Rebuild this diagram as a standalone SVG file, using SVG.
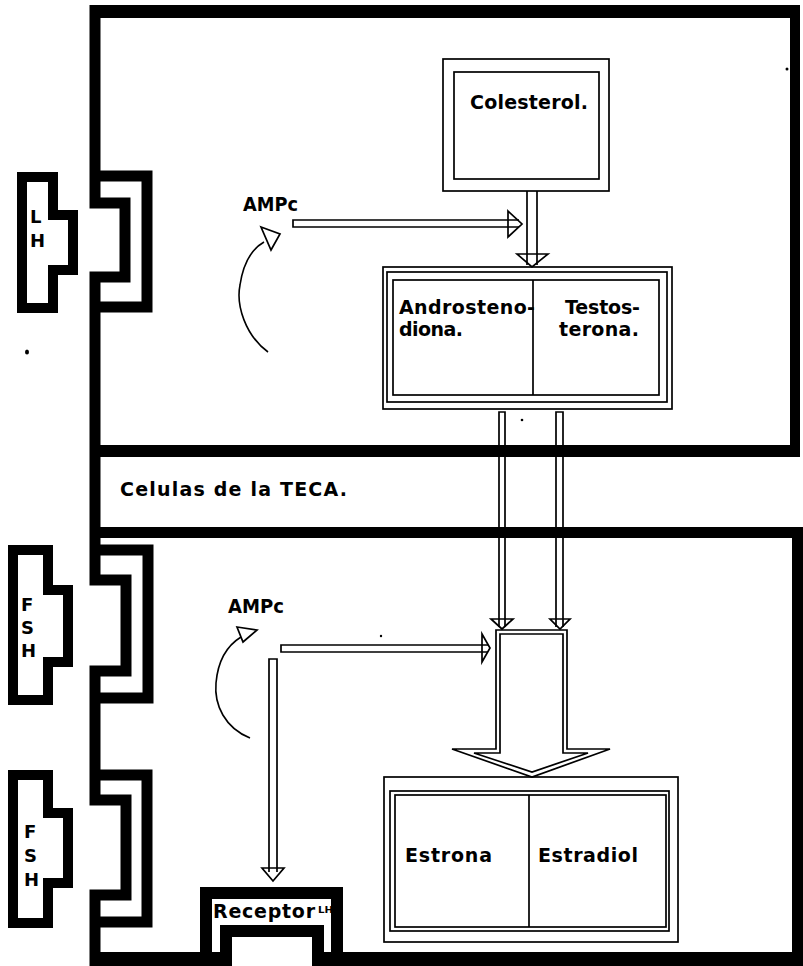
<svg xmlns="http://www.w3.org/2000/svg" width="803" height="966" viewBox="0 0 803 966">
<style>
.blk{fill:#000}
.wall{fill:none;stroke:#000;stroke-width:11;stroke-linejoin:miter;stroke-linecap:butt}
.wall2{fill:none;stroke:#000;stroke-width:12;stroke-linejoin:miter;stroke-linecap:butt}
.hw{fill:#fff;stroke:#000;stroke-width:10;stroke-linejoin:miter}
.thin{fill:none;stroke:#000;stroke-width:1.7}
.head{fill:none;stroke:#000;stroke-width:1.7;stroke-linejoin:miter}
.curve{fill:none;stroke:#000;stroke-width:1.6}
text{font-family:"DejaVu Sans","Liberation Sans",sans-serif;font-weight:bold;font-size:19px;fill:#000}
.sm{font-size:9px}
.let{font-size:18px}
</style>
<rect width="803" height="966" fill="#fff"/>

<g id="membrana">
  <rect class="blk" x="90" y="5" width="710" height="13"/>
  <rect class="blk" x="790" y="5" width="10" height="452"/>
  <rect class="blk" x="90" y="445" width="710" height="12"/>
  <rect class="blk" x="90" y="527" width="713" height="11"/>
  <rect class="blk" x="792" y="527" width="11" height="439"/>
  <rect class="blk" x="90" y="952" width="142" height="14"/>
  <rect class="blk" x="313" y="952" width="490" height="14"/>
  <path class="wall" d="M95,5 V203 H125 V277 H95 V580 H126 V671 H95 V800 H126 V895 H95 V966"/>
  <path class="wall" d="M95,176 H147 V307 H95"/>
  <path class="wall" d="M95,550 H148 V698 H95"/>
  <path class="wall" d="M95,775 H147 V922 H95"/>
</g>

<g id="receptor-lh">
  <path class="wall2" d="M206,952 V893 H337 V952"/>
  <path class="wall2" d="M226,966 V931 H318 V966"/>
  <text x="213" y="918" textLength="102" lengthAdjust="spacing">Receptor</text>
  <text class="sm" x="318" y="913" textLength="15" lengthAdjust="spacingAndGlyphs">LH</text>
</g>

<g id="lh">
  <path class="hw" d="M22,177 H53 V215 H73 V270 H53 V308 H22 Z"/>
  <text class="let" x="30" y="223">L</text>
  <text class="let" x="30" y="247">H</text>
</g>

<g id="fsh1">
  <path class="hw" d="M13,550 H48 V590 H68 V662 H48 V700 H13 Z"/>
  <text class="let" x="21" y="611">F</text>
  <text class="let" x="21" y="634">S</text>
  <text class="let" x="21" y="657">H</text>
</g>

<g id="fsh2">
  <path class="hw" d="M13,775 H48 V813 H68 V883 H48 V923 H13 Z"/>
  <text class="let" x="24" y="838">F</text>
  <text class="let" x="24" y="862">S</text>
  <text class="let" x="24" y="886">H</text>
</g>

<g id="colesterol">
  <rect class="thin" x="443" y="59" width="166" height="132"/>
  <rect class="thin" x="454" y="72" width="145" height="107"/>
  <text x="470" y="109" textLength="118" lengthAdjust="spacing">Colesterol.</text>
</g>

<g id="androstenodiona-testosterona">
  <rect class="thin" x="383" y="267" width="289" height="142"/>
  <rect class="thin" x="387" y="272" width="280" height="130"/>
  <rect class="thin" x="393" y="280" width="266" height="115"/>
  <line class="thin" x1="533" y1="280" x2="533" y2="395"/>
  <text x="399" y="314" textLength="136" lengthAdjust="spacing">Androsteno-</text>
  <text x="399" y="336" textLength="64" lengthAdjust="spacing">diona.</text>
  <text x="565" y="314" textLength="75" lengthAdjust="spacing">Testos-</text>
  <text x="559" y="336" textLength="80" lengthAdjust="spacing">terona.</text>
</g>

<g id="estrona-estradiol">
  <rect class="thin" x="384" y="777" width="294" height="165"/>
  <rect class="thin" x="390" y="791" width="279" height="140"/>
  <rect class="thin" x="395" y="795" width="271" height="132"/>
  <line class="thin" x1="529" y1="795" x2="529" y2="927"/>
  <text x="405" y="862" textLength="87" lengthAdjust="spacing">Estrona</text>
  <text x="538" y="862" textLength="100" lengthAdjust="spacing">Estradiol</text>
</g>

<g id="teca-label">
  <text x="120" y="496" textLength="227" lengthAdjust="spacing">Celulas de la TECA.</text>
</g>

<g id="ampc-labels">
  <text x="243" y="211" textLength="55" lengthAdjust="spacingAndGlyphs">AMPc</text>
  <text x="228" y="613" textLength="56" lengthAdjust="spacingAndGlyphs">AMPc</text>
</g>

<g id="conectores">
  <polygon class="head" points="517,254 548,254 532,267"/>
  <line class="thin" x1="527" y1="191" x2="527" y2="265"/>
  <line class="thin" x1="537" y1="191" x2="537" y2="265"/>
  <path class="thin" d="M519,220 H293 V227 H519"/>
  <polygon class="head" points="508,211 522,224 508,237"/>
  <path class="curve" d="M268,352 C245,335 236,305 240,285 C243,265 250,250 264,242"/>
  <polygon class="head" points="261,227 280,234 271,250"/>
  <path class="thin" d="M499,627 V412 H505 V627"/>
  <polygon class="head" points="491,619 513,619 502,629"/>
  <path class="thin" d="M556,627 V412 H563 V627"/>
  <polygon class="head" points="550,619 570,619 560,629"/>
  <path class="head" d="M496,630 H567 V749 H610 L532,777 L452,749 H496 Z"/>
  <path class="head" d="M500,634 H563 V753 H588 L532,772 L474,753 H500 Z"/>
  <path class="thin" d="M488,645 H281 V652 H488"/>
  <polygon class="head" points="482,634 490,648 482,662"/>
  <path class="curve" d="M250,738 C225,728 214,705 216,683 C218,660 228,645 241,637"/>
  <polygon class="head" points="237,627 257,630 243,642"/>
  <path class="thin" d="M269,872 V659 H277 V872"/>
  <polygon class="head" points="262,868 284,868 273,881"/>
</g>

<g id="puntos">
  <ellipse cx="27" cy="352" rx="2" ry="2.5"/>
  <circle cx="787" cy="69" r="1.5"/>
  <circle cx="522" cy="420" r="1.3"/>
  <circle cx="381" cy="636" r="1.2"/>
</g>
</svg>
